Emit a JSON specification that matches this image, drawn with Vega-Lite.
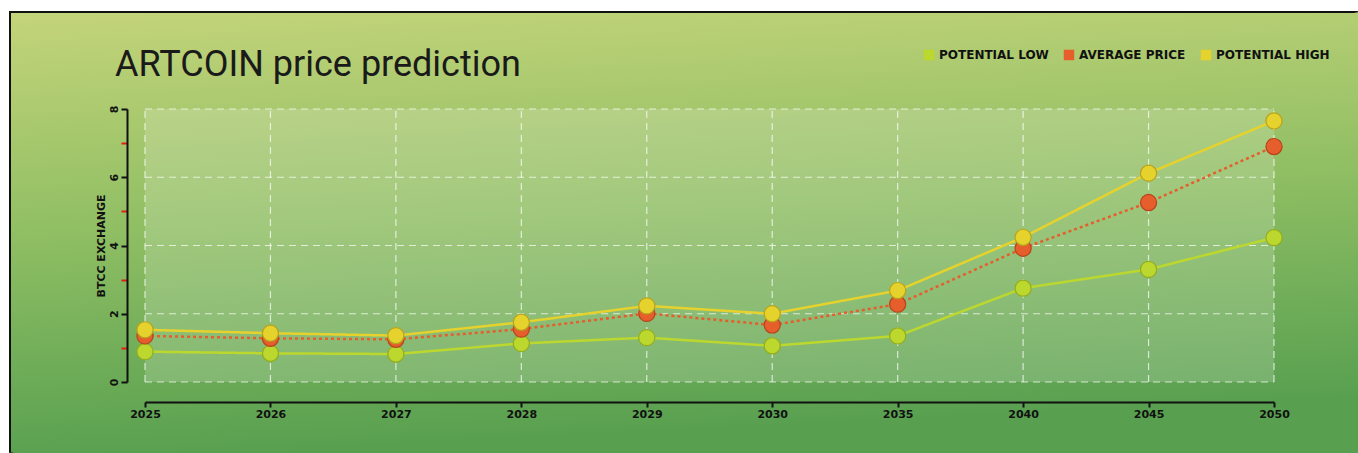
{
  "$schema": "https://vega.github.io/schema/vega-lite/v6.json",
  "width": 1348,
  "height": 441,
  "autosize": {"type": "none"},
  "padding": {"left": 10, "top": 12, "right": 0, "bottom": 0},
  "background": "white",
  "title": {
    "text": "ARTCOIN price prediction",
    "anchor": "start",
    "frame": "group",
    "orient": "none",
    "dx": 105,
    "dy": 64,
    "baseline": "alphabetic",
    "font": "Roboto",
    "fontSize": 36,
    "fontWeight": "normal",
    "color": "#1a1a1a"
  },
  "config": {
    "view": {
      "fill": {
        "gradient": "linear",
        "x1": 0, "y1": 0, "x2": 0.15, "y2": 1,
        "stops": [
          {"offset": 0, "color": "#c4d47a"},
          {"offset": 0.5, "color": "#8fbe63"},
          {"offset": 1, "color": "#58a050"}
        ]
      },
      "stroke": {
        "gradient": "linear",
        "x1": 0, "y1": 0, "x2": 1, "y2": 1,
        "stops": [
          {"offset": 0, "color": "#111111"},
          {"offset": 0.499, "color": "#111111"},
          {"offset": 0.501, "color": "rgba(0,0,0,0)"},
          {"offset": 1, "color": "rgba(0,0,0,0)"}
        ]
      },
      "strokeWidth": 2
    },
    "axis": {
      "labelFont": "DejaVu Sans",
      "labelFontWeight": "bold",
      "labelFontSize": 11,
      "labelColor": "#111111",
      "titleFont": "DejaVu Sans",
      "titleFontWeight": "bold",
      "titleFontSize": 11,
      "titleColor": "#111111",
      "domainColor": "#111111",
      "domainWidth": 2,
      "tickColor": "#111111",
      "tickWidth": 2,
      "grid": false
    },
    "legend": {
      "labelFont": "DejaVu Sans",
      "labelFontWeight": "bold",
      "labelFontSize": 12,
      "labelColor": "#111111"
    }
  },
  "datasets": {
    "prices": [
      {"year": "2025", "series": "POTENTIAL LOW", "value": 0.89},
      {"year": "2025", "series": "AVERAGE PRICE", "value": 1.35},
      {"year": "2025", "series": "POTENTIAL HIGH", "value": 1.53},
      {"year": "2026", "series": "POTENTIAL LOW", "value": 0.84},
      {"year": "2026", "series": "AVERAGE PRICE", "value": 1.28},
      {"year": "2026", "series": "POTENTIAL HIGH", "value": 1.43},
      {"year": "2027", "series": "POTENTIAL LOW", "value": 0.82},
      {"year": "2027", "series": "AVERAGE PRICE", "value": 1.25},
      {"year": "2027", "series": "POTENTIAL HIGH", "value": 1.36},
      {"year": "2028", "series": "POTENTIAL LOW", "value": 1.13},
      {"year": "2028", "series": "AVERAGE PRICE", "value": 1.55},
      {"year": "2028", "series": "POTENTIAL HIGH", "value": 1.75},
      {"year": "2029", "series": "POTENTIAL LOW", "value": 1.30},
      {"year": "2029", "series": "AVERAGE PRICE", "value": 2.01},
      {"year": "2029", "series": "POTENTIAL HIGH", "value": 2.23},
      {"year": "2030", "series": "POTENTIAL LOW", "value": 1.06},
      {"year": "2030", "series": "AVERAGE PRICE", "value": 1.67},
      {"year": "2030", "series": "POTENTIAL HIGH", "value": 2.00},
      {"year": "2035", "series": "POTENTIAL LOW", "value": 1.35},
      {"year": "2035", "series": "AVERAGE PRICE", "value": 2.28},
      {"year": "2035", "series": "POTENTIAL HIGH", "value": 2.68},
      {"year": "2040", "series": "POTENTIAL LOW", "value": 2.75},
      {"year": "2040", "series": "AVERAGE PRICE", "value": 3.92},
      {"year": "2040", "series": "POTENTIAL HIGH", "value": 4.24},
      {"year": "2045", "series": "POTENTIAL LOW", "value": 3.30},
      {"year": "2045", "series": "AVERAGE PRICE", "value": 5.26},
      {"year": "2045", "series": "POTENTIAL HIGH", "value": 6.12},
      {"year": "2050", "series": "POTENTIAL LOW", "value": 4.23},
      {"year": "2050", "series": "AVERAGE PRICE", "value": 6.90},
      {"year": "2050", "series": "POTENTIAL HIGH", "value": 7.65}
    ],
    "years": [
      {"year": "2025"}, {"year": "2026"}, {"year": "2027"}, {"year": "2028"}, {"year": "2029"},
      {"year": "2030"}, {"year": "2035"}, {"year": "2040"}, {"year": "2045"}, {"year": "2050"}
    ],
    "gridY": [{"v": 0}, {"v": 2}, {"v": 4}, {"v": 6}, {"v": 8}],
    "panel": [{"name": "plot"}]
  },
  "layer": [
    {
      "data": {"name": "panel"},
      "mark": {"type": "rect", "fill": "white", "opacity": 0.17},
      "encoding": {
        "x": {"datum": "2025", "type": "ordinal"},
        "x2": {"datum": "2050"},
        "y": {"datum": 0, "type": "quantitative"},
        "y2": {"datum": 8}
      }
    },
    {
      "data": {"name": "years"},
      "mark": {"type": "rule", "color": "white", "opacity": 0.7, "strokeDash": [7, 5], "strokeWidth": 1.2},
      "encoding": {
        "x": {"field": "year", "type": "ordinal"},
        "y": {"datum": 0, "type": "quantitative"},
        "y2": {"datum": 8}
      }
    },
    {
      "data": {"name": "gridY"},
      "mark": {"type": "rule", "color": "white", "opacity": 0.7, "strokeDash": [7, 5], "strokeWidth": 1.2},
      "encoding": {
        "y": {"field": "v", "type": "quantitative"},
        "x": {"datum": "2025", "type": "ordinal"},
        "x2": {"datum": "2050"}
      }
    },
    {
      "data": {"name": "prices"},
      "mark": {"type": "line", "strokeWidth": 2.5},
      "encoding": {
        "x": {"field": "year", "type": "ordinal"},
        "y": {"field": "value", "type": "quantitative"},
        "color": {"field": "series", "type": "nominal"},
        "strokeDash": {
          "field": "series", "type": "nominal", "legend": null,
          "scale": {"domain": ["POTENTIAL LOW", "AVERAGE PRICE", "POTENTIAL HIGH"], "range": [[1, 0], [3, 3], [1, 0]]}
        }
      }
    },
    {
      "data": {"name": "prices"},
      "mark": {"type": "point", "filled": true, "size": 260, "opacity": 1, "strokeWidth": 1.2},
      "encoding": {
        "x": {
          "field": "year", "type": "ordinal",
          "scale": {"type": "point", "range": [135, 1264], "padding": 0},
          "axis": {"title": null, "offset": -51, "labelAngle": 0, "labelAlign": "center", "labelBaseline": "top", "labelPadding": 1, "tickSize": 5}
        },
        "y": {
          "field": "value", "type": "quantitative",
          "scale": {"domain": [0, 8], "range": [370, 97], "nice": false},
          "axis": {
            "title": "BTCC EXCHANGE",
            "offset": -117,
            "values": [0, 1, 2, 3, 4, 5, 6, 7, 8],
            "format": "d",
            "labelExpr": "datum.value % 2 === 0 ? datum.label : ''",
            "labelAngle": -90,
            "labelAlign": "center",
            "labelBaseline": "bottom",
            "labelPadding": 2,
            "tickSize": 6,
            "tickColor": {"condition": {"test": "datum.value % 2 === 1", "value": "#e02010"}, "value": "#111111"},
            "titlePadding": 2
          }
        },
        "color": {
          "field": "series", "type": "nominal",
          "scale": {"domain": ["POTENTIAL LOW", "AVERAGE PRICE", "POTENTIAL HIGH"], "range": ["#bcd82e", "#e55e2c", "#e6d22c"]},
          "legend": {
            "title": null,
            "orient": "none",
            "legendX": 913,
            "legendY": 37,
            "direction": "horizontal",
            "symbolType": "square",
            "symbolSize": 110,
            "symbolStrokeWidth": 0,
            "columnPadding": 14,
            "labelOffset": 4
          }
        },
        "stroke": {
          "field": "series", "type": "nominal", "legend": null,
          "scale": {"domain": ["POTENTIAL LOW", "AVERAGE PRICE", "POTENTIAL HIGH"], "range": ["#93ad1c", "#b8431c", "#b9a31c"]}
        }
      }
    }
  ]
}
